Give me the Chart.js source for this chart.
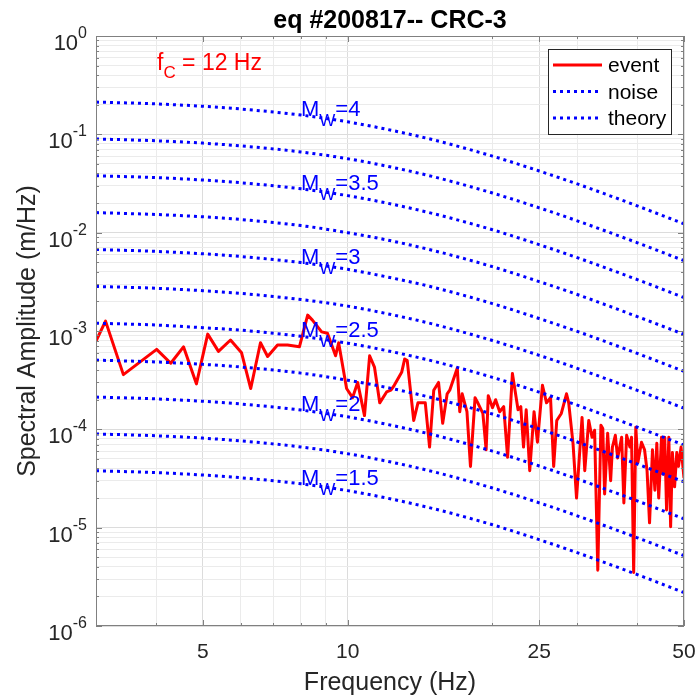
<!DOCTYPE html>
<html>
<head>
<meta charset="utf-8">
<script src="https://cdn.jsdelivr.net/npm/chart.js@4.4.0/dist/chart.umd.min.js"></script>
<style>
  html, body { margin: 0; padding: 0; background: #fff; }
  canvas { display: block; }
</style>
</head>
<body>
<canvas id="spectreChart" width="697" height="697"></canvas>
<script>
        // Spectre de l'événement (fréquence en Hz, amplitude en m/Hz)
        const eventFreq = [3.0, 3.14, 3.42, 4.01, 4.29, 4.56, 4.85, 5.12, 5.39, 5.71, 6.02, 6.29, 6.59, 6.82, 7.15, 7.5, 7.94,
            8.26, 8.45, 8.83, 9.08, 9.44, 9.58, 9.95, 10.24, 10.49, 10.84, 11.11, 11.37, 11.66, 12.05, 12.3, 12.5, 12.95,
            13.14, 13.3, 13.72, 14.0, 14.5, 14.8, 15.1, 15.45, 15.76, 16.1, 16.3, 16.9, 17.1, 17.3, 17.7, 18.0, 18.4, 18.6,
            19.1, 19.4, 19.6, 20.0, 20.3, 20.7, 21.1, 21.5, 22.0, 22.6, 22.9, 23.2, 23.5, 23.9, 24.4, 24.8, 25.4, 25.9, 26.4,
            26.8, 27.2, 27.8, 28.5, 28.8, 29.4, 29.9, 30.7, 31.1, 31.7, 32.2, 32.6, 33.1, 33.6, 33.9, 34.2, 34.7, 35.2, 35.5,
            36.0, 36.4, 37.1, 37.5, 38.0, 38.6, 38.9, 39.3, 39.7, 40.1, 40.8, 41.4, 41.9, 42.4, 43.0, 43.5, 43.9, 44.3, 44.9,
            45.2, 45.6, 46.0, 46.5, 46.9, 47.3, 47.8, 48.3, 48.7, 49.3, 50.0];
        const eventAmp = [7.9e-4, 1.26e-3, 3.6e-4, 6.5e-4, 4.7e-4, 6.9e-4, 2.9e-4, 9.3e-4, 6.2e-4, 8.1e-4, 6.0e-4, 2.6e-4,
            7.6e-4, 5.5e-4, 7.2e-4, 7.2e-4, 6.9e-4, 1.45e-3, 1.29e-3, 9.8e-4, 9.5e-4, 5.6e-4, 7.6e-4, 2.6e-4, 2.1e-4, 3.0e-4,
            1.38e-4, 5.6e-4, 4.3e-4, 1.86e-4, 2.4e-4, 2.5e-4, 2.8e-4, 3.8e-4, 5.2e-4, 5.0e-4, 1.23e-4, 1.86e-4, 1.86e-4,
            6.6e-5, 2.5e-4, 3.0e-4, 1.15e-4, 2.3e-4, 2.5e-4, 4.2e-4, 1.51e-4, 2.3e-4, 1.51e-4, 4.2e-5, 2.1e-4, 1.9e-4,
            1.45e-4, 6.2e-5, 2.2e-4, 1.66e-4, 2.0e-4, 1.51e-4, 1.7e-4, 5.2e-5, 3.7e-4, 1.58e-4, 1.7e-4, 6.6e-5, 1.58e-4,
            3.8e-5, 1.51e-4, 7.4e-5, 2.8e-4, 1.86e-4, 2.1e-4, 4.2e-5, 1.23e-4, 1.45e-4, 2.3e-4, 1.86e-4, 7.2e-5, 2.0e-5,
            1.32e-4, 3.8e-5, 1.23e-4, 8.3e-5, 9.8e-5, 3.7e-6, 1.1e-4, 1.02e-4, 2.2e-5, 9.1e-5, 3.0e-5, 6.6e-5, 8.7e-5,
            5.1e-5, 8.3e-5, 1.78e-5, 8.7e-5, 6.6e-5, 8.3e-5, 3.5e-6, 1.05e-4, 4.6e-5, 7.4e-5, 6.2e-5, 3.8e-5, 1.12e-5,
            6.2e-5, 2.4e-5, 7.2e-5, 2.0e-5, 8.3e-5, 3.5e-5, 8.3e-5, 1.51e-5, 8.3e-5, 1.02e-5, 5.8e-5, 2.6e-5, 5.8e-5,
            4.2e-5, 6.6e-5, 3.2e-5];

        // Courbes théoriques (fc = 12 Hz)
        const theoryFreq = [3, 4, 5, 6, 8, 10, 12, 15, 20, 25, 30, 40, 50];
        const theoryMw = ['4', '3.75', '3.5', '3.25', '3', '2.75', '2.5', '2.25', '2', '1.75', '1.5'];
        const theoryAmp = [
            [0.213, 0.204, 0.193, 0.181, 0.157, 0.134, 0.113, 0.0884, 0.0600, 0.0424, 0.0313, 0.0187, 0.0123],
            [0.0898, 0.0860, 0.0814, 0.0763, 0.0662, 0.0565, 0.0477, 0.0373, 0.0253, 0.0179, 0.0132, 0.00789, 0.00519],
            [0.0379, 0.0363, 0.0343, 0.0322, 0.0279, 0.0238, 0.0201, 0.0157, 0.0107, 0.00755, 0.00557, 0.00333, 0.00219],
            [0.0160, 0.0153, 0.0145, 0.0136, 0.0118, 0.0100, 0.00848, 0.00662, 0.00451, 0.00318, 0.00235, 0.00140, 9.24e-4],
            [6.74e-3, 6.45e-3, 6.10e-3, 5.72e-3, 4.96e-3, 4.24e-3, 3.57e-3, 2.80e-3, 1.90e-3, 1.34e-3, 9.90e-4, 5.91e-4, 3.89e-4],
            [2.84e-3, 2.72e-3, 2.57e-3, 2.41e-3, 2.09e-3, 1.79e-3, 1.51e-3, 1.18e-3, 8.00e-4, 5.66e-4, 4.17e-4, 2.49e-4, 1.64e-4],
            [1.20e-3, 1.15e-3, 1.08e-3, 1.02e-3, 8.82e-4, 7.52e-4, 6.35e-4, 4.96e-4, 3.38e-4, 2.39e-4, 1.76e-4, 1.05e-4, 6.92e-5],
            [5.06e-4, 4.84e-4, 4.58e-4, 4.30e-4, 3.73e-4, 3.16e-4, 2.68e-4, 2.09e-4, 1.43e-4, 1.01e-4, 7.43e-5, 4.43e-5, 2.92e-5],
            [2.13e-4, 2.04e-4, 1.93e-4, 1.81e-4, 1.57e-4, 1.34e-4, 1.13e-4, 8.84e-5, 6.00e-5, 4.24e-5, 3.13e-5, 1.87e-5, 1.23e-5],
            [8.98e-5, 8.60e-5, 8.14e-5, 7.63e-5, 6.62e-5, 5.65e-5, 4.77e-5, 3.73e-5, 2.53e-5, 1.79e-5, 1.32e-5, 7.89e-6, 5.19e-6],
            [3.79e-5, 3.63e-5, 3.43e-5, 3.22e-5, 2.79e-5, 2.38e-5, 2.01e-5, 1.57e-5, 1.07e-5, 7.55e-6, 5.57e-6, 3.33e-6, 2.19e-6]
        ];
        // Courbes étiquetées sur le graphique
        const labelledMw = ['4', '3.5', '3', '2.5', '2', '1.5'];
        const labelFreq = 8;

        // Graduations
        const xTickLabels = [5, 10, 25, 50];
        const xMinorTicks = [3, 4, 6, 7, 8, 9, 20, 30, 40];
        const yTickExponents = [0, -1, -2, -3, -4, -5, -6];
        const yMinorMantissa = [2, 3, 4, 5, 6, 7, 8, 9];
        const legendLabels = ['event', 'noise', 'theory'];

        const FONT = '"Liberation Sans", Arial, Helvetica, sans-serif';
        const RED = '#ff0000';
        const BLUE = '#0000ff';

        const xTickValues = xMinorTicks.concat(xTickLabels).sort((a, b) => a - b);
        const yTickValues = [];
        yTickExponents.forEach(e => {
            yTickValues.push(Math.pow(10, e));
            if (e < 0) yMinorMantissa.forEach(m => yTickValues.push(+(m * Math.pow(10, e)).toPrecision(3)));
        });
        const yMajor = yTickExponents.map(e => Math.pow(10, e));

        function isMajorX(v) { return xTickLabels.includes(v); }
        function isMajorY(v) { return yMajor.some(m => Math.abs(v / m - 1) < 1e-6); }

        // Décor façon MATLAB : cadre, graduations, textes
        const decorPlugin = {
            id: 'decor',
            afterDraw(chart) {
                const { ctx, chartArea: a, scales: { x, y } } = chart;
                ctx.save();

                // cadre et graduations intérieures
                ctx.strokeStyle = '#808080';
                ctx.lineWidth = 1;
                ctx.strokeRect(a.left + 0.5, a.top + 0.5, a.right - a.left - 1, a.bottom - a.top - 1);
                ctx.beginPath();
                xTickValues.forEach(v => {
                    const px = Math.round(x.getPixelForValue(v)) + 0.5;
                    const len = isMajorX(v) ? 6 : 3;
                    ctx.moveTo(px, a.bottom); ctx.lineTo(px, a.bottom - len);
                    ctx.moveTo(px, a.top); ctx.lineTo(px, a.top + len);
                });
                yTickValues.forEach(v => {
                    const py = Math.round(y.getPixelForValue(v)) + 0.5;
                    const len = isMajorY(v) ? 6 : 3;
                    ctx.moveTo(a.left, py); ctx.lineTo(a.left + len, py);
                    ctx.moveTo(a.right, py); ctx.lineTo(a.right - len, py);
                });
                ctx.stroke();

                // étiquettes de l'axe x
                ctx.fillStyle = '#262626';
                ctx.font = '21px ' + FONT;
                ctx.textAlign = 'center';
                ctx.textBaseline = 'alphabetic';
                xTickLabels.forEach(v => {
                    ctx.fillText(String(v), x.getPixelForValue(v), a.bottom + 32);
                });

                // étiquettes de l'axe y (10 puissance n)
                ctx.textAlign = 'right';
                yTickExponents.forEach(e => {
                    const py = y.getPixelForValue(Math.pow(10, e));
                    const expo = e === 0 ? '0' : '-' + Math.abs(e);
                    ctx.font = '16px ' + FONT;
                    const w = ctx.measureText(expo).width;
                    ctx.fillText(expo, a.left - 9, py + 2);
                    ctx.font = '22px ' + FONT;
                    ctx.fillText('10', a.left - 9 - w, py + 14);
                });

                // titres des axes
                ctx.font = '25px ' + FONT;
                ctx.textAlign = 'center';
                ctx.fillText('Frequency (Hz)', (a.left + a.right) / 2, 690);
                ctx.save();
                ctx.translate(35, (a.top + a.bottom) / 2);
                ctx.rotate(-Math.PI / 2);
                ctx.fillText('Spectral Amplitude (m/Hz)', 0, 0);
                ctx.restore();

                // titre
                ctx.fillStyle = '#000';
                ctx.font = 'bold 25px ' + FONT;
                ctx.fillText('eq #200817-- CRC-3', (a.left + a.right) / 2, 28);

                // f_C = 12 Hz
                ctx.fillStyle = RED;
                ctx.textAlign = 'left';
                let tx = 157;
                ctx.font = '23px ' + FONT;
                ctx.fillText('f', tx, 70); tx += ctx.measureText('f').width;
                ctx.font = '17px ' + FONT;
                ctx.fillText('C', tx, 78); tx += ctx.measureText('C').width;
                ctx.font = '23px ' + FONT;
                ctx.fillText(' = 12 Hz', tx, 70);

                // étiquettes M_W sur les courbes théoriques
                ctx.fillStyle = BLUE;
                const li = theoryFreq.indexOf(labelFreq);
                labelledMw.forEach(mw => {
                    const k = theoryMw.indexOf(mw);
                    let lx = x.getPixelForValue(labelFreq);
                    const ly = y.getPixelForValue(theoryAmp[k][li]) + 1;
                    ctx.font = '22px ' + FONT;
                    ctx.fillText('M', lx, ly); lx += ctx.measureText('M').width;
                    ctx.font = '17px ' + FONT;
                    ctx.fillText('W', lx, ly + 10); lx += ctx.measureText('W').width;
                    ctx.font = '22px ' + FONT;
                    ctx.fillText('=' + mw, lx, ly);
                });

                // légende
                const lg = { left: a.right - 136, top: a.top + 13, w: 123, h: 85 };
                ctx.fillStyle = '#fff';
                ctx.fillRect(lg.left, lg.top, lg.w, lg.h);
                ctx.strokeStyle = '#262626';
                ctx.lineWidth = 1;
                ctx.strokeRect(lg.left + 0.5, lg.top + 0.5, lg.w, lg.h);
                const styles = [chart.data.datasets[0], chart.data.datasets[1], chart.data.datasets[2]];
                legendLabels.forEach((lab, i) => {
                    const ds = styles[i];
                    const ry = lg.top + 16 + i * 26.5;
                    ctx.beginPath();
                    ctx.strokeStyle = ds.borderColor;
                    ctx.lineWidth = ds.borderWidth;
                    ctx.setLineDash(ds.borderDash || []);
                    ctx.moveTo(lg.left + 5, ry);
                    ctx.lineTo(lg.left + 54, ry);
                    ctx.stroke();
                    ctx.setLineDash([]);
                    ctx.fillStyle = '#000';
                    ctx.font = '21px ' + FONT;
                    ctx.fillText(lab, lg.left + 60, ry + 7);
                });

                ctx.restore();
            }
        };

        // Jeux de données : event, noise (légende seulement), théorie
        const eventDataset = {
            label: 'event',
            data: eventFreq.map((f, i) => ({ x: f, y: eventAmp[i] })),
            borderColor: RED, borderWidth: 3, pointRadius: 0, tension: 0,
            borderJoinStyle: 'round', order: 2
        };
        const noiseDataset = {
            label: 'noise', data: [], borderColor: BLUE, borderWidth: 3, borderDash: [3, 4], pointRadius: 0, order: 1
        };
        const theoryDatasets = theoryAmp.map((amp, k) => ({
            label: 'theory Mw=' + theoryMw[k],
            data: theoryFreq.map((f, j) => ({ x: f, y: amp[j] })),
            borderColor: BLUE, borderWidth: 3, borderDash: [3, 4], borderCapStyle: 'butt',
            pointRadius: 0, cubicInterpolationMode: 'monotone', order: 0
        }));

        const spectreCtx = document.getElementById('spectreChart').getContext('2d');
        const spectreChart = new Chart(spectreCtx, {
            type: 'line',
            data: { datasets: [eventDataset, noiseDataset].concat(theoryDatasets) },
            options: {
                responsive: false,
                animation: false,
                devicePixelRatio: 1,
                layout: { padding: { left: 96, top: 36, right: 13, bottom: 71 } },
                plugins: { legend: { display: false }, tooltip: { enabled: false }, title: { display: false } },
                scales: {
                    x: {
                        type: 'logarithmic', min: 3, max: 50,
                        afterBuildTicks: s => { s.ticks = xTickValues.map(v => ({ value: v })); },
                        ticks: { display: false },
                        grid: { drawTicks: false, lineWidth: 1, color: c => isMajorX(c.tick.value) ? '#dcdcdc' : '#ebebeb' },
                        border: { display: false }
                    },
                    y: {
                        type: 'logarithmic', min: 1e-6, max: 1,
                        afterBuildTicks: s => { s.ticks = yTickValues.map(v => ({ value: v })); },
                        ticks: { display: false },
                        grid: { drawTicks: false, lineWidth: 1, color: c => isMajorY(c.tick.value) ? '#dcdcdc' : '#ebebeb' },
                        border: { display: false }
                    }
                }
            },
            plugins: [decorPlugin]
        });
</script>
</body>
</html>
